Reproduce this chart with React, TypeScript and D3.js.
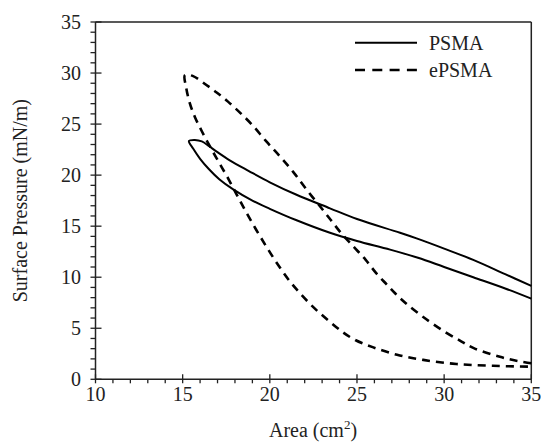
import React from "react";
import * as d3 from "d3";

// PSMA loop: compression (upper branch, right -> left) then expansion (lower, left -> right)
const psmaArea = [35, 33.5, 31.67, 30, 28.5, 27.47, 25, 23.45, 21.5, 20, 18.8, 17.7, 16.95, 16.5, 16.1, 15.7, 15.36,
  15.6, 16.0, 16.5, 17.1, 17.9, 19.0, 20.0, 21.5, 23.45, 25, 26.9, 28.5, 30, 31.67, 33.5, 35];
const psmaPressure = [9.15, 10.3, 11.7, 12.8, 13.75, 14.35, 15.7, 16.75, 18.1, 19.3, 20.4, 21.45, 22.3, 22.85, 23.3, 23.45, 23.35,
  22.6, 21.6, 20.6, 19.6, 18.6, 17.5, 16.7, 15.6, 14.35, 13.55, 12.7, 11.9, 11.0, 10.0, 8.9, 7.9];

// ePSMA loop
const epsmaArea = [35, 34.2, 33.2, 31.7, 31.0, 30.0, 28.8, 27.8, 27.2, 26.7, 26.1, 25.5, 24.8, 24.1, 23.5, 22.9, 22.1, 21.35, 20.6, 19.8, 19.0, 18.3, 17.6, 16.95, 16.3, 15.6, 15.13,
  15.2, 15.4, 15.7, 16.1, 16.6, 17.1, 17.6, 18.1, 18.6, 19.2, 19.8, 20.4, 21.1, 21.8, 22.6, 23.4, 24.2, 24.9, 25.9, 27.3, 28.8, 30.7, 32.8, 35];
const epsmaPressure = [1.57, 1.8, 2.2, 3.05, 3.7, 4.7, 6.1, 7.45, 8.4, 9.3, 10.4, 11.7, 13.0, 14.3, 15.6, 16.9, 18.6, 20.3, 21.8, 23.3, 24.9, 26.1, 27.2, 28.1, 28.9, 29.7, 29.8,
  28.6, 27.1, 25.7, 24.3, 22.7, 21.2, 19.7, 18.1, 16.5, 14.7, 13.0, 11.4, 9.7, 8.3, 6.9, 5.7, 4.6, 3.85, 3.15, 2.4, 1.9, 1.5, 1.32, 1.24];

const xTicks = [10, 15, 20, 25, 30, 35];
const yTicks = [0, 5, 10, 15, 20, 25, 30, 35];
const seriesNames = ["PSMA", "ePSMA"];

const W = 541;
const H = 442;
const font = "Liberation Serif";

export default function App() {
  const x = d3.scaleLinear().domain([10, 35]).range([95.5, 531.3]);
  const y = d3.scaleLinear().domain([0, 35]).range([379.3, 22]);

  const mk = (xs: number[], ys: number[]) =>
    d3
      .line<[number, number]>()
      .x((d) => x(d[0]))
      .y((d) => y(d[1]))
      .curve(d3.curveCatmullRom.alpha(0.5))(xs.map((v, i) => [v, ys[i]] as [number, number])) || "";

  const psmaPath = mk(psmaArea, psmaPressure);
  const epsmaPath = mk(epsmaArea, epsmaPressure);

  const xMinor = d3.range(10, 35.01, 1).filter((v) => !xTicks.includes(v));
  const yMinor = d3.range(0, 35.01, 1).filter((v) => !yTicks.includes(v));
  const x0 = x(10);
  const y0 = y(0);
  const axisColor = "#222";
  const ts = { fontFamily: font, fontSize: "20px", fill: "#222" } as React.CSSProperties;

  return (
    <svg width={W} height={H} style={{ position: "absolute", left: 0, top: 0, background: "#fff", fontFamily: font }}>
      <rect width={W} height={H} fill="#fff" />
      {/* frame */}
      <line x1={x0} x2={x(35)} y1={y(35)} y2={y(35)} stroke={axisColor} strokeWidth={1.5} />
      <line x1={x(35)} x2={x(35)} y1={y(35)} y2={y0} stroke={axisColor} strokeWidth={1.5} />
      <line x1={x0} x2={x(35)} y1={y0} y2={y0} stroke={axisColor} strokeWidth={1.5} />
      <line x1={x0} x2={x0} y1={y(35)} y2={y0} stroke={axisColor} strokeWidth={1.5} />

      {/* x ticks */}
      {xTicks.map((t) => (
        <g key={"xt" + t}>
          <line x1={x(t)} x2={x(t)} y1={y0 - 5} y2={y0 + 4} stroke={axisColor} strokeWidth={1.3} />
          <text x={x(t)} y={401} textAnchor="middle" style={ts}>
            {t}
          </text>
        </g>
      ))}
      {xMinor.map((t) => (
        <line key={"xm" + t} x1={x(t)} x2={x(t)} y1={y0} y2={y0 + 4} stroke={axisColor} strokeWidth={1.3} />
      ))}
      {/* y ticks */}
      {yTicks.map((t) => (
        <g key={"yt" + t}>
          <line x1={x0 - 5} x2={x0 + 6} y1={y(t)} y2={y(t)} stroke={axisColor} strokeWidth={1.3} />
          <text x={81} y={y(t)} dy="0.35em" textAnchor="end" style={ts}>
            {t}
          </text>
        </g>
      ))}
      {yMinor.map((t) => (
        <line key={"ym" + t} x1={x0 - 5} x2={x0} y1={y(t)} y2={y(t)} stroke={axisColor} strokeWidth={1.3} />
      ))}

      {/* axis titles */}
      <text x={313} y={437} textAnchor="middle" style={ts}>
        Area (cm<tspan style={{ fontSize: "13px" }} dy={-8}>2</tspan>
        <tspan dy={8}>)</tspan>
      </text>
      <text
        transform={`translate(27,${(y(0) + y(35)) / 2}) rotate(-90)`}
        textAnchor="middle"
        style={ts}
      >
        Surface Pressure (mN/m)
      </text>

      {/* curves */}
      <path d={psmaPath} fill="none" stroke="#000" strokeWidth={2} strokeLinejoin="round" />
      <path d={epsmaPath} fill="none" stroke="#000" strokeWidth={2.6} strokeDasharray="8,6" />

      {/* legend */}
      <line x1={355} x2={417} y1={42.7} y2={42.7} stroke="#000" strokeWidth={2} />
      <text x={429} y={42.7} dy="0.35em" style={ts}>
        {seriesNames[0]}
      </text>
      <line x1={355} x2={417} y1={70} y2={70} stroke="#000" strokeWidth={2.4} strokeDasharray="10,7.3" />
      <text x={429} y={70} dy="0.35em" style={ts}>
        {seriesNames[1]}
      </text>
    </svg>
  );
}
